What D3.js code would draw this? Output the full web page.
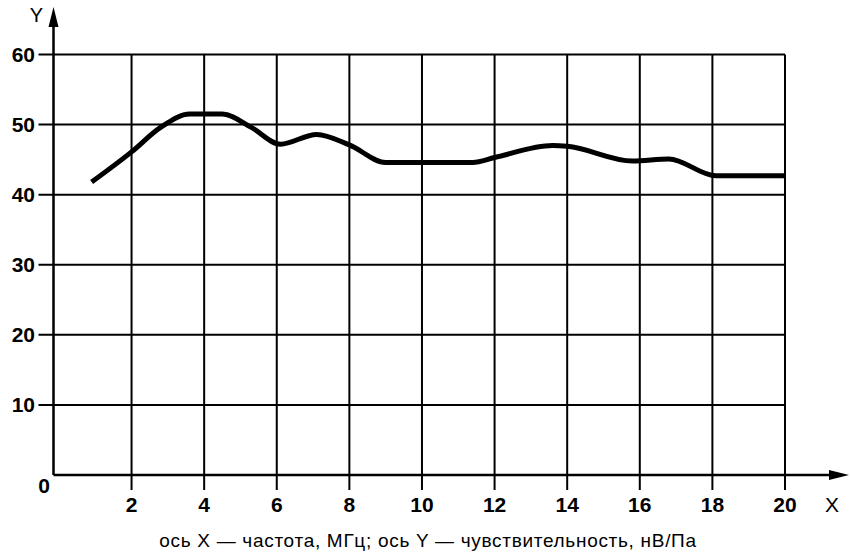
<!DOCTYPE html>
<html>
<head>
<meta charset="utf-8">
<script src="https://cdn.jsdelivr.net/npm/d3@7"></script>
<style>
  body { margin: 0; background: #fff; }
  text { font-family: "Liberation Sans", Arial, sans-serif; fill: #000; }
</style>
</head>
<body>
<div id="chart"></div>
<script>
// curve
const freq = [0.9, 2, 2.8, 3.6, 4.5, 5.3, 6.1, 7.1, 8.0, 9.0, 11.4, 12.0, 13.6, 14.0, 15.8, 16.8, 18.1, 20];
const sens = [41.8, 46.1, 49.6, 51.5, 51.5, 49.6, 47.2, 48.6, 47.1, 44.6, 44.6, 45.3, 47.0, 46.9, 44.8, 45.1, 42.7, 42.7];
const xTicks = [2, 4, 6, 8, 10, 12, 14, 16, 18, 20];
const yTicks = [10, 20, 30, 40, 50, 60];
const caption = "ось X — частота, МГц; ось Y — чувствительность, нВ/Па";

const width = 850, height = 556;
const svg = d3.select("#chart").append("svg").attr("width", width).attr("height", height);

// y axis line sits a little left of x = 0
const x = d3.scaleLinear().domain([-0.15, 20]).range([53.5, 785]);
const y = d3.scaleLinear().domain([0, 60]).range([475, 54.5]);
const x0 = x(-0.15);

// grid
svg.append("g").selectAll("line")
  .data(yTicks)
  .join("line")
  .attr("x1", x0 - 15).attr("x2", x(20))
  .attr("y1", d => y(d)).attr("y2", d => y(d))
  .attr("stroke", "#000").attr("stroke-width", 2);

svg.append("g").selectAll("line")
  .data(xTicks)
  .join("line")
  .attr("x1", d => x(d)).attr("x2", d => x(d))
  .attr("y1", y(0) + 15).attr("y2", y(60))
  .attr("stroke", "#000").attr("stroke-width", 2);

// axes with arrows
svg.append("line")
  .attr("x1", x0).attr("x2", x0)
  .attr("y1", y(0)).attr("y2", 22)
  .attr("stroke", "#000").attr("stroke-width", 2.5);
svg.append("path")
  .attr("d", `M${x0},7 L${x0 - 5},27 L${x0 + 5},27 Z`)
  .attr("fill", "#000");

svg.append("line")
  .attr("x1", x0).attr("x2", 832)
  .attr("y1", y(0)).attr("y2", y(0))
  .attr("stroke", "#000").attr("stroke-width", 2.5);
svg.append("path")
  .attr("d", `M849,${y(0)} L829,${y(0) - 5} L829,${y(0) + 5} Z`)
  .attr("fill", "#000");

// tick labels
svg.append("g").selectAll("text")
  .data(xTicks)
  .join("text")
  .attr("x", d => x(d)).attr("y", 512)
  .attr("text-anchor", "middle")
  .attr("font-size", 21).attr("font-weight", "bold")
  .text(d => d);

svg.append("g").selectAll("text")
  .data(yTicks)
  .join("text")
  .attr("x", 35).attr("y", d => y(d) + 7.5)
  .attr("text-anchor", "end")
  .attr("font-size", 21).attr("font-weight", "bold")
  .text(d => d);

svg.append("text").attr("x", 44).attr("y", 493)
  .attr("text-anchor", "middle")
  .attr("font-size", 21).attr("font-weight", "bold").text("0");

svg.append("text").attr("x", 36.5).attr("y", 22)
  .attr("text-anchor", "middle").attr("font-size", 20).text("Y");
svg.append("text").attr("x", 832).attr("y", 512)
  .attr("text-anchor", "middle").attr("font-size", 21).text("X");

// curve
const line = d3.line()
  .x(d => x(d[0]))
  .y(d => y(d[1]))
  .curve(d3.curveMonotoneX);

svg.append("path")
  .datum(freq.map((f, i) => [f, sens[i]]))
  .attr("d", line)
  .attr("fill", "none")
  .attr("stroke", "#000")
  .attr("stroke-width", 5);

// caption
svg.append("text")
  .attr("x", 428).attr("y", 547)
  .attr("text-anchor", "middle")
  .attr("font-size", 19)
  .attr("letter-spacing", 0.7)
  .text(caption);
</script>
</body>
</html>
